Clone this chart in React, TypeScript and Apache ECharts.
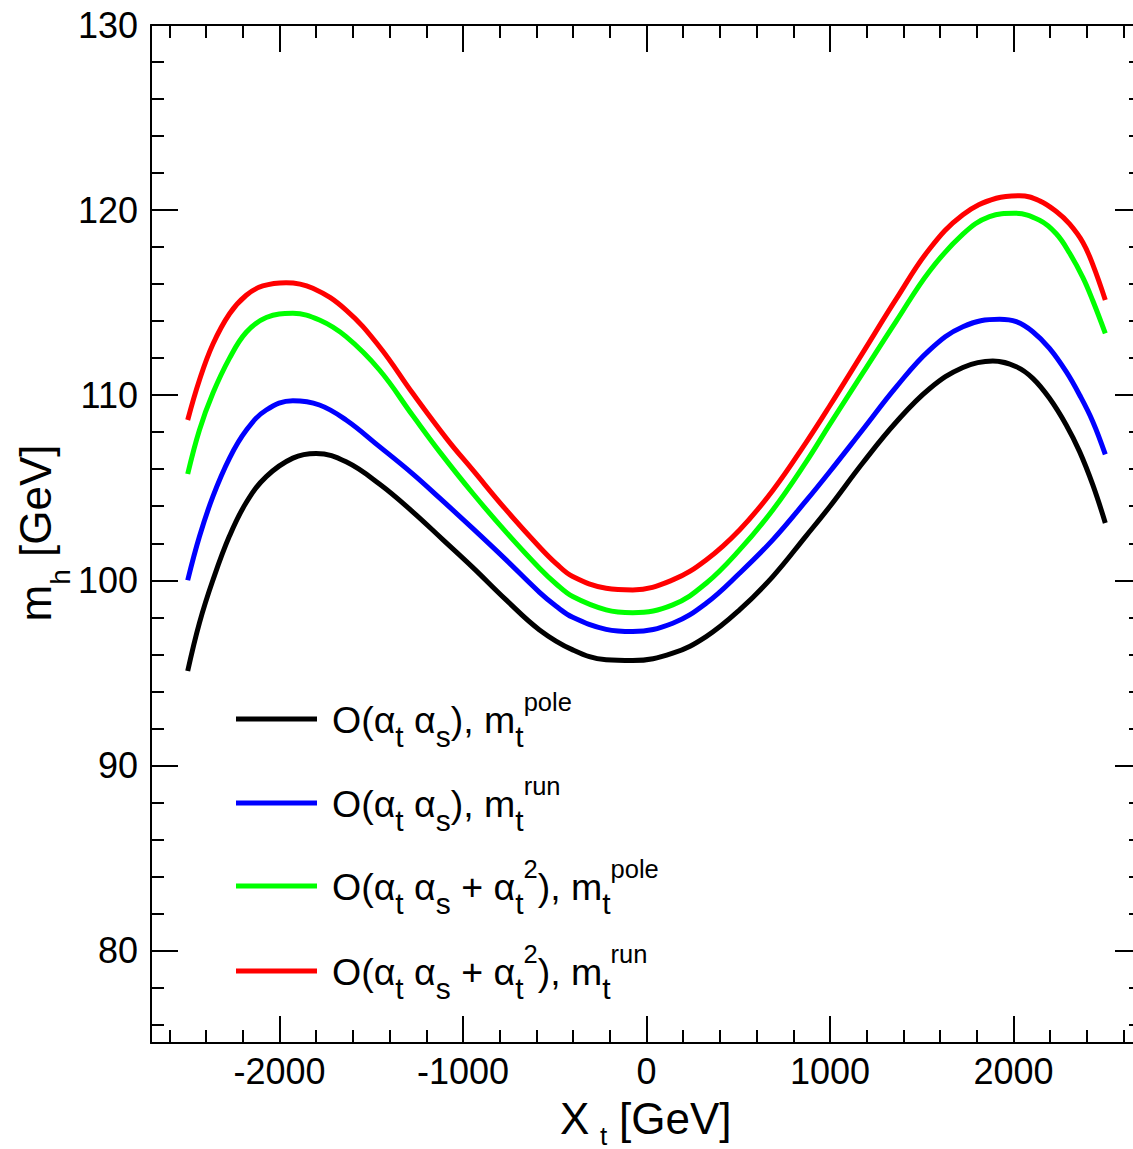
import React, { useEffect, useRef } from 'react';
import * as echarts from 'echarts';

const FONT = '"Liberation Sans", Arial, Helvetica, sans-serif';

const X_MIN = -2700;
const X_MAX = 2700;
const Y_MIN = 75;
const Y_MAX = 130;

const xMajorTicks = [-2000, -1000, 0, 1000, 2000];
const xMinorTicks = [-2600, -2400, -2200, -1800, -1600, -1400, -1200, -800, -600, -400, -200, 200, 400, 600, 800, 1200, 1400, 1600, 1800, 2200, 2400, 2600];
const yMajorTicks = [80, 90, 100, 110, 120, 130];
const yMinorTicks = [76, 78, 82, 84, 86, 88, 92, 94, 96, 98, 102, 104, 106, 108, 112, 114, 116, 118, 122, 124, 126, 128];

const seriesNames = [
  'O(αt αs), mt pole',
  'O(αt αs), mt run',
  'O(αt αs + αt2), mt pole',
  'O(αt αs + αt2), mt run',
];
const seriesColors = ['#000000', '#0000ff', '#00ff00', '#ff0000'];

const curvePoleAtAs: [number, number][] = [
  [-2500, 95.1], [-2436, 97.7], [-2363, 100.0], [-2272, 102.4], [-2181, 104.2], [-2072, 105.6],
  [-1927, 106.6], [-1800, 106.85], [-1637, 106.4], [-1455, 105.2], [-1274, 103.7], [-1110, 102.2],
  [-947, 100.7], [-765, 98.94], [-583, 97.32], [-402, 96.24], [-220, 95.7], [-75, 95.66],
  [143, 96.06], [325, 96.96], [507, 98.4], [688, 100.2], [870, 102.4], [1000, 104.0],
  [1179, 106.35], [1361, 108.55], [1542, 110.35], [1724, 111.5], [1887, 111.85], [2015, 111.54],
  [2105, 110.91], [2196, 109.83], [2287, 108.39], [2360, 106.95], [2432, 105.15], [2500, 103.1],
];
const curveRunAtAs: [number, number][] = [
  [-2500, 100.0], [-2436, 102.36], [-2363, 104.52], [-2272, 106.6], [-2181, 108.1], [-2072, 109.2],
  [-1927, 109.7], [-1782, 109.47], [-1637, 108.66], [-1455, 107.22], [-1274, 105.75], [-1128, 104.45],
  [-947, 102.8], [-765, 101.1], [-583, 99.35], [-492, 98.6], [-402, 98.0], [-220, 97.35], [-75, 97.23],
  [143, 97.68], [325, 98.76], [507, 100.38], [688, 102.18], [870, 104.3], [997, 105.85],
  [1179, 108.15], [1361, 110.45], [1542, 112.44], [1724, 113.7], [1924, 114.1], [2015, 113.97],
  [2105, 113.43], [2196, 112.53], [2287, 111.27], [2360, 110.01], [2432, 108.57], [2500, 106.8],
];
const curvePoleAtAsAt2: [number, number][] = [
  [-2500, 105.74], [-2436, 108.12], [-2363, 110.1], [-2272, 112.0], [-2181, 113.4], [-2072, 114.2],
  [-1927, 114.42], [-1782, 114.06], [-1637, 113.16], [-1455, 111.36], [-1274, 108.9], [-1128, 106.95],
  [-947, 104.7], [-765, 102.6], [-583, 100.65], [-492, 99.8], [-402, 99.12], [-220, 98.4], [-75, 98.25],
  [143, 98.67], [325, 99.84], [507, 101.64], [688, 103.8], [870, 106.4], [997, 108.4],
  [1179, 111.2], [1361, 114.0], [1542, 116.7], [1724, 118.7], [1869, 119.65], [2005, 119.83],
  [2142, 119.45], [2233, 118.72], [2305, 117.68], [2378, 116.35], [2432, 115.1], [2500, 113.34],
];
const curveRunAtAsAt2: [number, number][] = [
  [-2500, 108.66], [-2436, 110.82], [-2363, 112.75], [-2272, 114.4], [-2181, 115.4], [-2091, 115.9],
  [-1964, 116.08], [-1818, 115.78], [-1637, 114.6], [-1455, 112.62], [-1274, 110.1], [-1085, 107.6],
  [-947, 105.96], [-765, 103.8], [-583, 101.8], [-492, 100.9], [-402, 100.2], [-220, 99.57], [-75, 99.48],
  [143, 100.02], [325, 101.1], [507, 102.72], [688, 104.85], [870, 107.45], [997, 109.4],
  [1179, 112.3], [1361, 115.2], [1542, 117.9], [1724, 119.75], [1906, 120.64], [2033, 120.78],
  [2142, 120.5], [2233, 119.92], [2305, 119.25], [2378, 118.25], [2432, 117.05], [2500, 115.14],
];
const curves = [curvePoleAtAs, curveRunAtAs, curvePoleAtAsAt2, curveRunAtAsAt2];

const legendRich = [
  '{m|O(α}{s|t}{m| α}{s|s}{m|), m}{s|t}{p|pole}',
  '{m|O(α}{s|t}{m| α}{s|s}{m|), m}{s|t}{p|run}',
  '{m|O(α}{s|t}{m| α}{s|s}{m| + α}{s|t}{p|2}{m|), m}{s|t}{p|pole}',
  '{m|O(α}{s|t}{m| α}{s|s}{m| + α}{s|t}{p|2}{m|), m}{s|t}{p|run}',
];

const lineW = 5;

function xAx(position: 'top' | 'bottom', ticks: number[], len: number, labels: boolean, line: boolean) {
  return {
    type: 'value',
    position,
    min: X_MIN,
    max: X_MAX,
    axisLine: { show: line, onZero: false, lineStyle: { color: '#000', width: 2 } },
    axisTick: { show: true, inside: true, length: len, customValues: ticks, lineStyle: { color: '#000', width: 2 } },
    axisLabel: labels
      ? {
          show: true,
          customValues: xMajorTicks,
          fontSize: 36,
          fontFamily: FONT,
          color: '#000',
          margin: 10,
          formatter: (v: number) => String(v),
        }
      : { show: false },
    splitLine: { show: false },
  };
}
function yAx(position: 'left' | 'right', ticks: number[], len: number, labels: boolean, line: boolean) {
  return {
    type: 'value',
    position,
    min: Y_MIN,
    max: Y_MAX,
    axisLine: { show: line, onZero: false, lineStyle: { color: '#000', width: 2 } },
    axisTick: { show: true, inside: true, length: len, customValues: ticks, lineStyle: { color: '#000', width: 2 } },
    axisLabel: labels
      ? {
          show: true,
          customValues: yMajorTicks,
          fontSize: 36,
          fontFamily: FONT,
          color: '#000',
          margin: 13,
          formatter: (v: number) => String(v),
        }
      : { show: false },
    splitLine: { show: false },
  };
}

export default function App() {
  const ref = useRef<HTMLDivElement>(null);
  useEffect(() => {
    const chart = echarts.init(ref.current!, null, { renderer: 'svg' });
    const legendYs = [720, 804, 887, 972];
    const graphics: any[] = [];
    legendYs.forEach((ly, i) => {
      graphics.push({
        type: 'line',
        shape: { x1: 236, y1: ly - 1, x2: 317, y2: ly - 1 },
        style: { stroke: seriesColors[i], lineWidth: lineW },
      });
      graphics.push({
        type: 'text',
        x: 332,
        y: ly,
        style: {
          text: legendRich[i],
          align: 'left',
          verticalAlign: 'middle',
          fill: '#000',
          rich: {
            m: { fontSize: 37.5, fontFamily: FONT, fill: '#000' },
            s: { fontSize: 30, fontFamily: FONT, fill: '#000', padding: [33, 0, 0, 0] },
            p: { fontSize: 25.5, fontFamily: FONT, fill: '#000', padding: [0, 0, 37, 0] },
          },
        },
      });
    });
    // x axis title: X_t [GeV]
    graphics.push({
      type: 'text',
      x: 560,
      y: 1118,
      style: { text: 'X', align: 'left', verticalAlign: 'middle', fill: '#000', fontSize: 44, fontFamily: FONT },
    });
    graphics.push({
      type: 'text',
      x: 600,
      y: 1135.5,
      style: { text: 't', align: 'left', verticalAlign: 'middle', fill: '#000', fontSize: 26, fontFamily: FONT },
    });
    graphics.push({
      type: 'text',
      x: 619,
      y: 1118,
      style: { text: '[GeV]', align: 'left', verticalAlign: 'middle', fill: '#000', fontSize: 44, fontFamily: FONT },
    });
    // y axis title: m_h [GeV]
    graphics.push({
      type: 'text',
      x: 35,
      y: 533,
      rotation: Math.PI / 2,
      style: {
        text: '{m|m}{s|h}{m| [GeV]}',
        align: 'center',
        verticalAlign: 'middle',
        fill: '#000',
        rich: {
          m: { fontSize: 44, fontFamily: FONT, fill: '#000' },
          s: { fontSize: 28, fontFamily: FONT, fill: '#000', padding: [51, 0, 0, 0] },
        },
      },
    });

    chart.setOption({
      animation: false,
      backgroundColor: '#ffffff',
      grid: { left: 151, top: 25, width: 991, height: 1018, containLabel: false, outerBoundsMode: 'none' },
      xAxis: [
        xAx('bottom', xMajorTicks, 27, true, true),
        xAx('bottom', xMinorTicks, 13, false, false),
        xAx('top', xMajorTicks, 27, false, true),
        xAx('top', xMinorTicks, 13, false, false),
      ],
      yAxis: [
        yAx('left', yMajorTicks, 27, true, true),
        yAx('left', yMinorTicks, 13, false, false),
        yAx('right', yMajorTicks, 27, false, true),
        yAx('right', yMinorTicks, 13, false, false),
      ],
      series: curves.map((c, i) => ({
        type: 'line',
        name: seriesNames[i],
        xAxisIndex: 0,
        yAxisIndex: 0,
        data: c,
        smooth: 0.4,
        showSymbol: false,
        symbol: 'none',
        lineStyle: { color: seriesColors[i], width: lineW },
        itemStyle: { color: seriesColors[i] },
        z: 3 + i,
      })),
      graphic: graphics,
    });
    return () => chart.dispose();
  }, []);
  return (
    <div style={{ position: 'absolute', left: 0, top: 0, width: 1133, height: 1149, overflow: 'hidden', background: '#fff' }}>
      <div ref={ref} style={{ width: 1160, height: 1149 }} />
    </div>
  );
}
